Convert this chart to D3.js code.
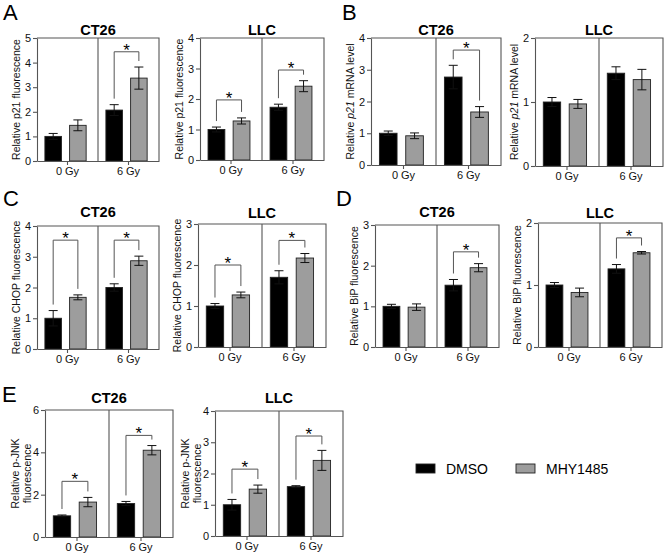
<!DOCTYPE html>
<html>
<head>
<meta charset="utf-8">
<script src="https://cdn.jsdelivr.net/npm/d3@7"></script>
<style>
body { margin: 0; background: #fff; }
text { font-family: Arial, "Liberation Sans", sans-serif; }
</style>
</head>
<body>
<div id="fig"></div>
<script>
var groups = ["0 Gy", "6 Gy"];
var series = ["DMSO", "MHY1485"];
var colors = ["#000000", "#9d9d9d"];

// order of values: 0 Gy DMSO, 0 Gy MHY1485, 6 Gy DMSO, 6 Gy MHY1485
var p21FluoCT26 = [1.0, 1.45, 2.07, 3.37];
var p21FluoCT26Err = [0.12, 0.22, 0.22, 0.45];
var p21FluoLLC = [1.0, 1.28, 1.73, 2.42];
var p21FluoLLCErr = [0.08, 0.1, 0.1, 0.18];

var p21mRNACT26 = [1.0, 0.92, 2.77, 1.67];
var p21mRNACT26Err = [0.07, 0.09, 0.37, 0.17];
var p21mRNALLC = [1.0, 0.97, 1.45, 1.35];
var p21mRNALLCErr = [0.07, 0.07, 0.1, 0.16];

var chopCT26 = [1.0, 1.68, 2.0, 2.87];
var chopCT26Err = [0.25, 0.08, 0.12, 0.15];
var chopLLC = [1.0, 1.27, 1.7, 2.17];
var chopLLCErr = [0.06, 0.07, 0.16, 0.11];

var bipCT26 = [1.0, 0.98, 1.52, 1.95];
var bipCT26Err = [0.05, 0.08, 0.14, 0.1];
var bipLLC = [1.0, 0.88, 1.26, 1.52];
var bipLLCErr = [0.04, 0.07, 0.07, 0.02];

var jnkCT26 = [1.0, 1.65, 1.58, 4.1];
var jnkCT26Err = [0.04, 0.22, 0.1, 0.22];
var jnkLLC = [1.0, 1.5, 1.58, 2.42];
var jnkLLCErr = [0.17, 0.13, 0.03, 0.32];

// significance bracket level per group (null = none)
var sigP21FluoCT26 = [null, 4.44];
var sigP21FluoLLC = [1.97, 2.95];
var sigP21mRNACT26 = [null, 3.62];
var sigP21mRNALLC = [null, null];
var sigChopCT26 = [3.54, 3.54];
var sigChopLLC = [2.0, 2.6];
var sigBipCT26 = [null, 2.34];
var sigBipLLC = [null, 1.76];
var sigJnkCT26 = [2.63, 4.8];
var sigJnkLLC = [2.14, 3.2];

var ticks5 = [0, 1, 2, 3, 4, 5];
var ticks4 = [0, 1, 2, 3, 4];
var ticks3 = [0, 1, 2, 3];
var ticks2 = [0, 1, 2];
var ticks6 = [0, 2, 4, 6];

var svg = d3.select("#fig").append("svg")
    .attr("width", 666)
    .attr("height", 555);

var lblP21 = [[{t: "Relative p21 fluorescence"}]];
var lblMRNA = [[{t: "Relative "}, {t: "p21", i: true}, {t: " mRNA level"}]];
var lblChop = [[{t: "Relative CHOP fluorescence"}]];
var lblBip = [[{t: "Relative BiP fluorescence"}]];
var lblJnk = [[{t: "Relative p-JNK"}], [{t: "fluorescence"}]];

var panels = [
  {title: "CT26", titleY: 35, x0: 37, sep: 98, yTop: 38, y0: 161, max: 5, ticks: ticks5, mean: p21FluoCT26, err: p21FluoCT26Err, sig: sigP21FluoCT26, label: lblP21},
  {title: "LLC", titleY: 35, x0: 200, sep: 262, yTop: 38, y0: 160, max: 4, ticks: ticks4, mean: p21FluoLLC, err: p21FluoLLCErr, sig: sigP21FluoLLC, label: lblP21},
  {title: "CT26", titleY: 35, x0: 371, sep: 436, yTop: 38, y0: 165, max: 4, ticks: ticks4, mean: p21mRNACT26, err: p21mRNACT26Err, sig: sigP21mRNACT26, label: lblMRNA},
  {title: "LLC", titleY: 35, x0: 535, sep: 599, yTop: 38, y0: 166, max: 2, ticks: ticks2, mean: p21mRNALLC, err: p21mRNALLCErr, sig: sigP21mRNALLC, label: lblMRNA},
  {title: "CT26", titleY: 217, x0: 37, sep: 98, yTop: 226, y0: 349, max: 4, ticks: ticks4, mean: chopCT26, err: chopCT26Err, sig: sigChopCT26, label: lblChop},
  {title: "LLC", titleY: 218, x0: 198, sep: 262, yTop: 224, y0: 347, max: 3, ticks: ticks3, mean: chopLLC, err: chopLLCErr, sig: sigChopLLC, label: lblChop},
  {title: "CT26", titleY: 217, x0: 375, sep: 437, yTop: 225, y0: 347, max: 3, ticks: ticks3, mean: bipCT26, err: bipCT26Err, sig: sigBipCT26, label: lblBip},
  {title: "LLC", titleY: 218, x0: 538, sep: 600, yTop: 223, y0: 347, max: 2, ticks: ticks2, mean: bipLLC, err: bipLLCErr, sig: sigBipLLC, label: lblBip},
  {title: "CT26", titleY: 403, x0: 45, sep: 109, yTop: 410, y0: 537, max: 6, ticks: ticks6, mean: jnkCT26, err: jnkCT26Err, sig: sigJnkCT26, label: lblJnk},
  {title: "LLC", titleY: 403, x0: 215, sep: 279, yTop: 411, y0: 536, max: 4, ticks: ticks4, mean: jnkLLC, err: jnkLLCErr, sig: sigJnkLLC, label: lblJnk}
];

panels.forEach(drawPanel);

function drawPanel(cfg) {
  var x1 = 2 * cfg.sep - cfg.x0;
  var g = svg.append("g");

  var x = d3.scaleBand().domain(groups).range([cfg.x0, x1]);
  var xs = d3.scaleBand().domain(series).range([0, x.bandwidth()])
      .paddingInner(0.33).paddingOuter(0.4).align(0.4);
  var y = d3.scaleLinear().domain([0, cfg.max]).range([cfg.y0, cfg.yTop]);

  var rows = cfg.mean.map(function(m, i) {
    return {g: groups[Math.floor(i / 2)], s: series[i % 2], si: i % 2, m: m, e: cfg.err[i]};
  });
  function cx(d) { return x(d.g) + xs(d.s) + xs.bandwidth() / 2; }

  // frame: top, right, and the divider between groups
  g.append("path")
      .attr("d", "M" + cfg.x0 + "," + cfg.yTop + "H" + x1 + "V" + cfg.y0 +
                 "M" + cfg.sep + "," + cfg.yTop + "V" + cfg.y0)
      .attr("fill", "none").attr("stroke", "#555").attr("stroke-width", 1.1);

  g.selectAll("rect.bar")
    .data(rows)
    .enter()
    .append("rect")
      .attr("x", function(d) { return x(d.g) + xs(d.s); })
      .attr("y", function(d) { return y(d.m); })
      .attr("width", xs.bandwidth())
      .attr("height", function(d) { return y(0) - y(d.m); })
      .attr("fill", function(d) { return colors[d.si]; })
      .attr("stroke", "#222")
      .attr("stroke-width", 0.9);

  // error bars with caps
  g.selectAll("path.err")
    .data(rows)
    .enter()
    .append("path")
      .attr("d", function(d) {
        var c = cx(d), t = y(d.m + d.e), b = y(d.m - d.e);
        return "M" + c + "," + t + "V" + b +
               "M" + (c - 4.5) + "," + t + "H" + (c + 4.5) +
               "M" + (c - 4.5) + "," + b + "H" + (c + 4.5);
      })
      .attr("fill", "none").attr("stroke", "#111").attr("stroke-width", 1);

  // significance brackets
  cfg.sig.forEach(function(lvl, gi) {
    if (lvl == null) return;
    var a = rows[gi * 2], b = rows[gi * 2 + 1];
    var yb = y(lvl);
    g.append("path")
        .attr("d", "M" + cx(a) + "," + (y(a.m + a.e) - 6) + "V" + yb + "H" + cx(b) + "V" + (y(b.m + b.e) - 6))
        .attr("fill", "none").attr("stroke", "#555").attr("stroke-width", 1);
    g.append("text")
        .attr("x", (cx(a) + cx(b)) / 2)
        .attr("y", yb + 4)
        .attr("text-anchor", "middle")
        .style("font-size", "17px")
        .text("*");
  });

  var ya = g.append("g")
      .attr("transform", "translate(" + cfg.x0 + ",0)")
      .call(d3.axisLeft(y).tickValues(cfg.ticks).tickSize(4).tickSizeOuter(0).tickPadding(2).tickFormat(d3.format("d")));
  var xa = g.append("g")
      .attr("transform", "translate(0," + cfg.y0 + ")")
      .call(d3.axisBottom(x).tickSize(4).tickSizeOuter(0).tickPadding(2));
  [ya, xa].forEach(function(ax) {
    ax.selectAll("path, line").attr("stroke", "#555").attr("stroke-width", 1.1);
    ax.selectAll("text").attr("fill", "#111").style("font-size", "11px")
      .style("font-family", "Arial, 'Liberation Sans', sans-serif");
  });

  g.append("text")
      .attr("x", cfg.sep)
      .attr("y", cfg.titleY)
      .attr("text-anchor", "middle")
      .style("font-size", "14.5px")
      .style("font-weight", "bold")
      .text(cfg.title);

  var cy = (cfg.yTop + cfg.y0) / 2;
  var nl = cfg.label.length;
  cfg.label.forEach(function(line, li) {
    var lx = cfg.x0 - 21 - (nl - 1 - li) * 12 + (nl - 1) * 3;
    var t = g.append("text")
        .attr("transform", "translate(" + lx + "," + cy + ") rotate(-90)")
        .attr("text-anchor", "middle")
        .attr("dy", "0.35em")
        .style("font-size", "10.5px")
        .attr("fill", "#111");
    line.forEach(function(seg) {
      t.append("tspan").style("font-style", seg.i ? "italic" : "normal").text(seg.t);
    });
  });
}

// panel letters
var letters = [
  {t: "A", x: 3, y: 20}, {t: "B", x: 342, y: 20},
  {t: "C", x: 3, y: 206}, {t: "D", x: 336, y: 206},
  {t: "E", x: 2, y: 402}
];
svg.selectAll("text.letter")
  .data(letters)
  .enter()
  .append("text")
    .attr("class", "letter")
    .attr("x", function(d) { return d.x; })
    .attr("y", function(d) { return d.y; })
    .style("font-size", "22px")
    .text(function(d) { return d.t; });

// legend
var legend = svg.append("g");
var legX = [416, 516];
series.forEach(function(s, i) {
  legend.append("rect")
      .attr("x", legX[i]).attr("y", 464)
      .attr("width", 19).attr("height", 9)
      .attr("fill", colors[i]).attr("stroke", "#222").attr("stroke-width", 0.9);
  legend.append("text")
      .attr("x", legX[i] + 30).attr("y", 474)
      .style("font-size", "14px")
      .text(s);
});
</script>
</body>
</html>
